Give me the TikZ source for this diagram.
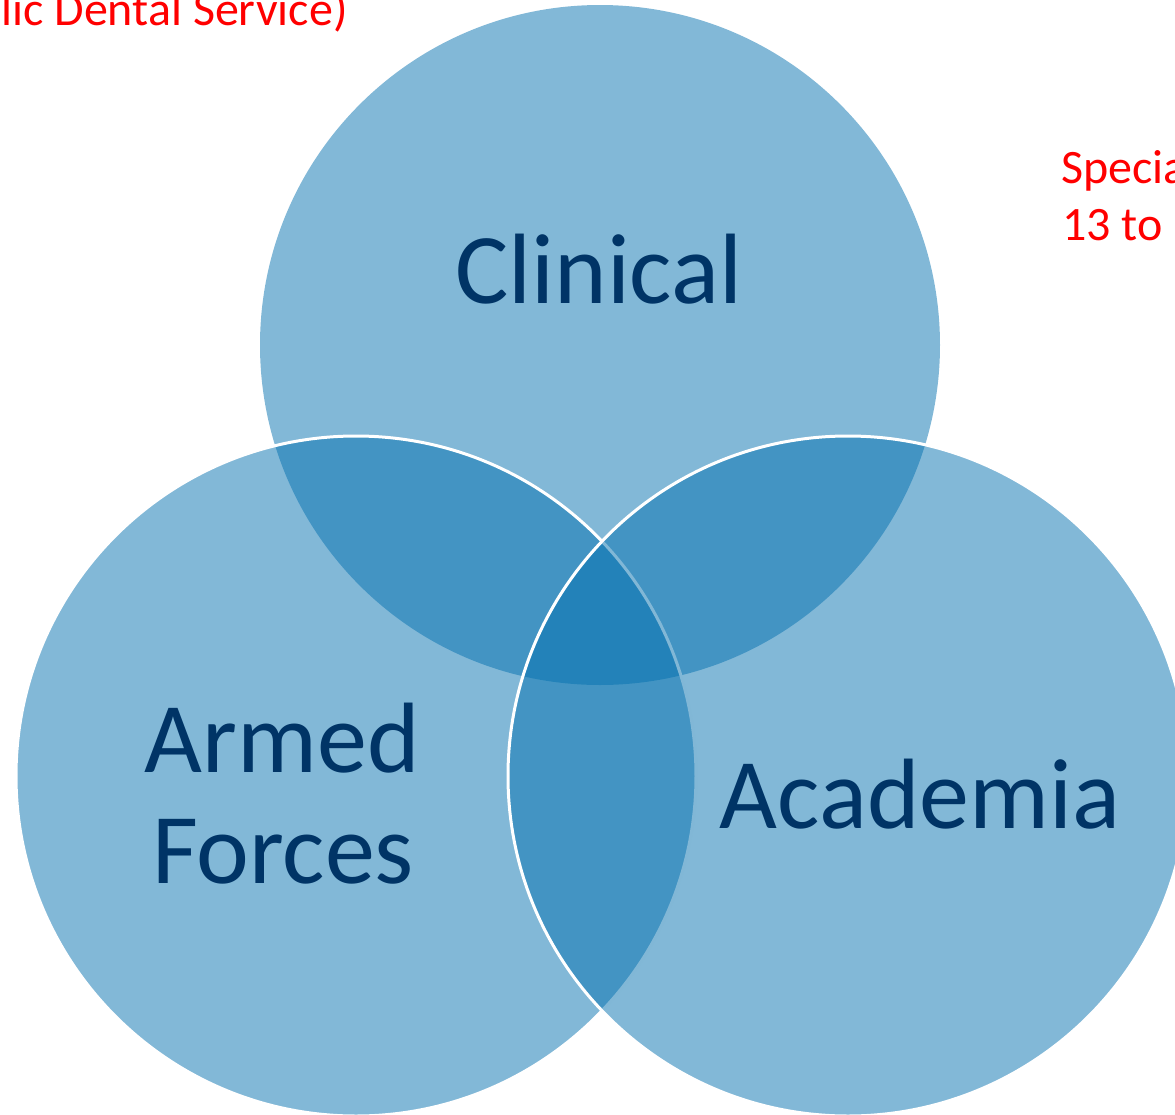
\documentclass[tikz,border=0pt]{standalone}
\usepackage{fontspec}
\setmainfont{Carlito}
\definecolor{vennblue}{RGB}{5,113,175}
\definecolor{labelblue}{RGB}{0,52,102}
\definecolor{notered}{RGB}{255,0,0}
\tikzset{
  venn/.style={fill=vennblue,fill opacity=0.5},
  vennline/.style={venn,draw=white,line width=1.5pt},
  biglabel/.style={text=labelblue,inner sep=0pt,anchor=base,font=\fontsize{50pt}{56pt}\selectfont},
  notelabel/.style={text=notered,inner sep=0pt,anchor=base west,font=\fontsize{24pt}{29pt}\selectfont}
}
\begin{document}
\begin{tikzpicture}[x=0.5pt,y=-0.5pt]
  \useasboundingbox (0,0) rectangle (1175,1115);
  \pgfmathsetmacro\rad{340*0.5}
  % the three circles
  \coordinate (clin) at (600,345);
  \coordinate (arm) at (356,776);
  \coordinate (acad) at (848,776);
  \fill[venn] (clin) circle[radius=\rad pt];
  \filldraw[vennline] (arm) circle[radius=\rad pt];
  \filldraw[vennline] (acad) circle[radius=\rad pt];
  % labels
  \node[biglabel] (clinical) at (599,303) {Clinical};
  \node[biglabel] (armed) at (282,772) {Armed};
  \node[biglabel] (forces) at (283,883) {Forces};
  \node[biglabel] (academia) at (920,828) {Academia};
  % notes cut by the page edge
  \node[notelabel] (pds) at (1,25) {lic Dental Service)};
  \node[notelabel] (spec) at (1061,183) {Specia};
  \node[notelabel] (range) at (1062,240) {13 to};
\end{tikzpicture}
\end{document}
